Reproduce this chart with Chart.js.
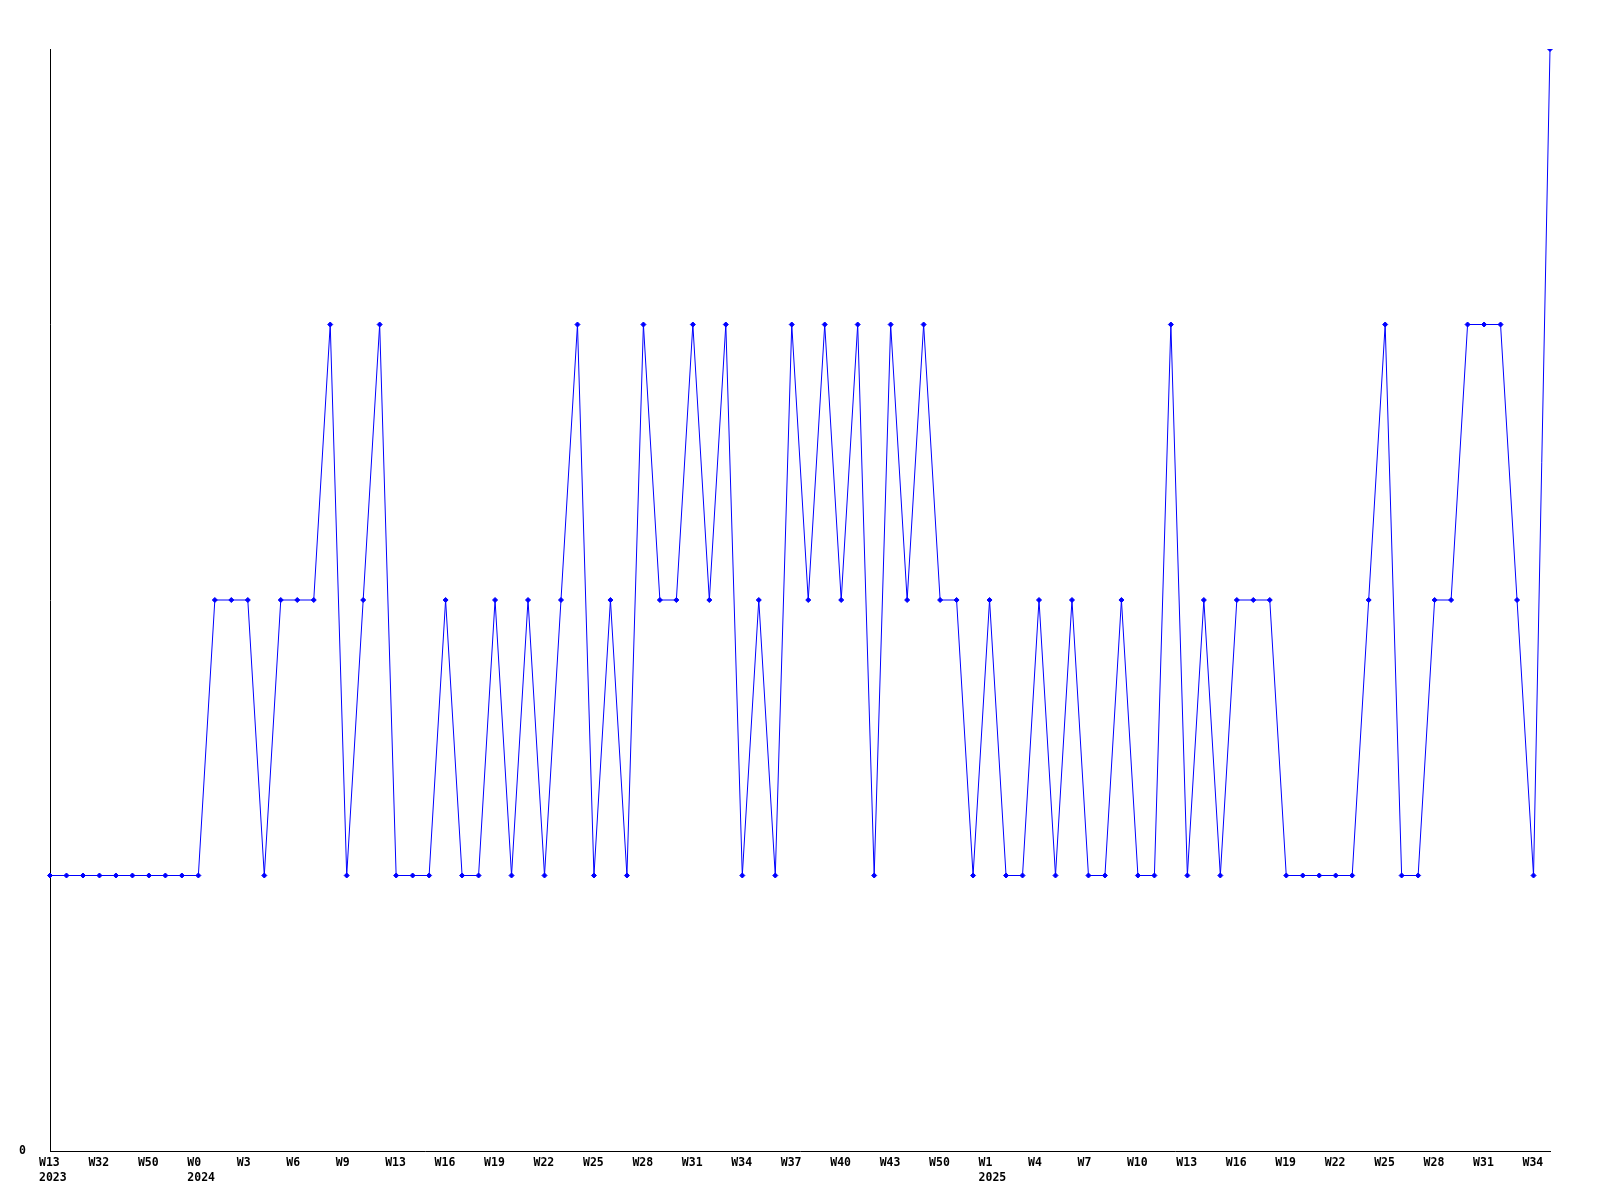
<!DOCTYPE html>
<html>
<head>
<meta charset="utf-8">
<script src="https://cdn.jsdelivr.net/npm/chart.js@4/dist/chart.umd.min.js"></script>
<style>
  html, body { margin: 0; padding: 0; background: #fff; }
  #wrap { width: 1600px; height: 1200px; }
</style>
</head>
<body>
<div id="wrap"><canvas id="chart" width="1600" height="1200"></canvas></div>
<script>
// week of each point (only every third one is printed on the axis)
const weeks = [
    'W13', 'W20', 'W27', 'W32', 'W38', 'W44', 'W50', 'W51', 'W52',
    'W0', 'W1', 'W2', 'W3', 'W4', 'W5', 'W6', 'W7', 'W8', 'W9', 'W11', 'W12',
    'W13', 'W14', 'W15', 'W16', 'W17', 'W18', 'W19', 'W20', 'W21', 'W22', 'W23', 'W24',
    'W25', 'W26', 'W27', 'W28', 'W29', 'W30', 'W31', 'W32', 'W33', 'W34', 'W35', 'W36',
    'W37', 'W38', 'W39', 'W40', 'W41', 'W42', 'W43', 'W45', 'W48',
    'W50', 'W51', 'W52',
    'W1', 'W2', 'W3', 'W4', 'W5', 'W6', 'W7', 'W8', 'W9', 'W10', 'W11', 'W12',
    'W13', 'W14', 'W15', 'W16', 'W17', 'W18', 'W19', 'W20', 'W21', 'W22', 'W23', 'W24',
    'W25', 'W26', 'W27', 'W28', 'W29', 'W30', 'W31', 'W32', 'W33', 'W34', 'W35'
];

// year shown under the first label of each year
const yearStarts = { 0: '2023', 9: '2024', 57: '2025' };

const counts = [
    1, 1, 1, 1, 1, 1, 1, 1, 1, 1,
    2, 2, 2, 1, 2, 2, 2, 3, 1, 2,
    3, 1, 1, 1, 2, 1, 1, 2, 1, 2,
    1, 2, 3, 1, 2, 1, 3, 2, 2, 3,
    2, 3, 1, 2, 1, 3, 2, 3, 2, 3,
    1, 3, 2, 3, 2, 2, 1, 2, 1, 1,
    2, 1, 2, 1, 1, 2, 1, 1, 3, 1,
    2, 1, 2, 2, 2, 1, 1, 1, 1, 1,
    2, 3, 1, 1, 2, 2, 3, 3, 3, 2,
    1, 4
];

const yMax = 4;

const font = { family: 'DejaVu Sans Mono', size: 11.5, weight: 'bold', lineHeight: 1.3 };

new Chart(document.getElementById('chart'), {
    type: 'line',
    data: {
        labels: weeks,
        datasets: [{
            data: counts,
            borderColor: '#0000ff',
            backgroundColor: '#0000ff',
            borderWidth: 1,
            pointStyle: 'rectRot',
            pointRadius: 2.5,
            pointBorderWidth: 1,
            tension: 0
        }]
    },
    options: {
        responsive: false,
        animation: false,
        layout: { padding: { top: 49, right: 50, left: 0, bottom: 0 } },
        plugins: { legend: { display: false }, tooltip: { enabled: false } },
        scales: {
            x: {
                offset: false,
                grid: { display: false, drawTicks: false },
                border: { display: true, color: '#000', width: 1 },
                afterFit: axis => { axis.height = 49; },
                ticks: {
                    autoSkip: false,
                    maxRotation: 0,
                    minRotation: 0,
                    align: 'start',
                    labelOffset: -11,
                    padding: 5,
                    color: '#000',
                    font: font,
                    callback: function (value, index) {
                        if (index % 3 !== 0) return '';
                        const w = this.getLabelForValue(value);
                        return yearStarts[index] ? [w, yearStarts[index]] : w;
                    }
                }
            },
            y: {
                min: 0,
                max: yMax,
                grid: { display: false, drawTicks: false },
                border: { display: true, color: '#000', width: 1 },
                afterFit: axis => { axis.width = 50; },
                afterBuildTicks: axis => { axis.ticks = [{ value: 0 }]; },
                ticks: {
                    padding: 24,
                    color: '#000',
                    font: font,
                    callback: v => String(v)
                }
            }
        }
    }
});
</script>
</body>
</html>
